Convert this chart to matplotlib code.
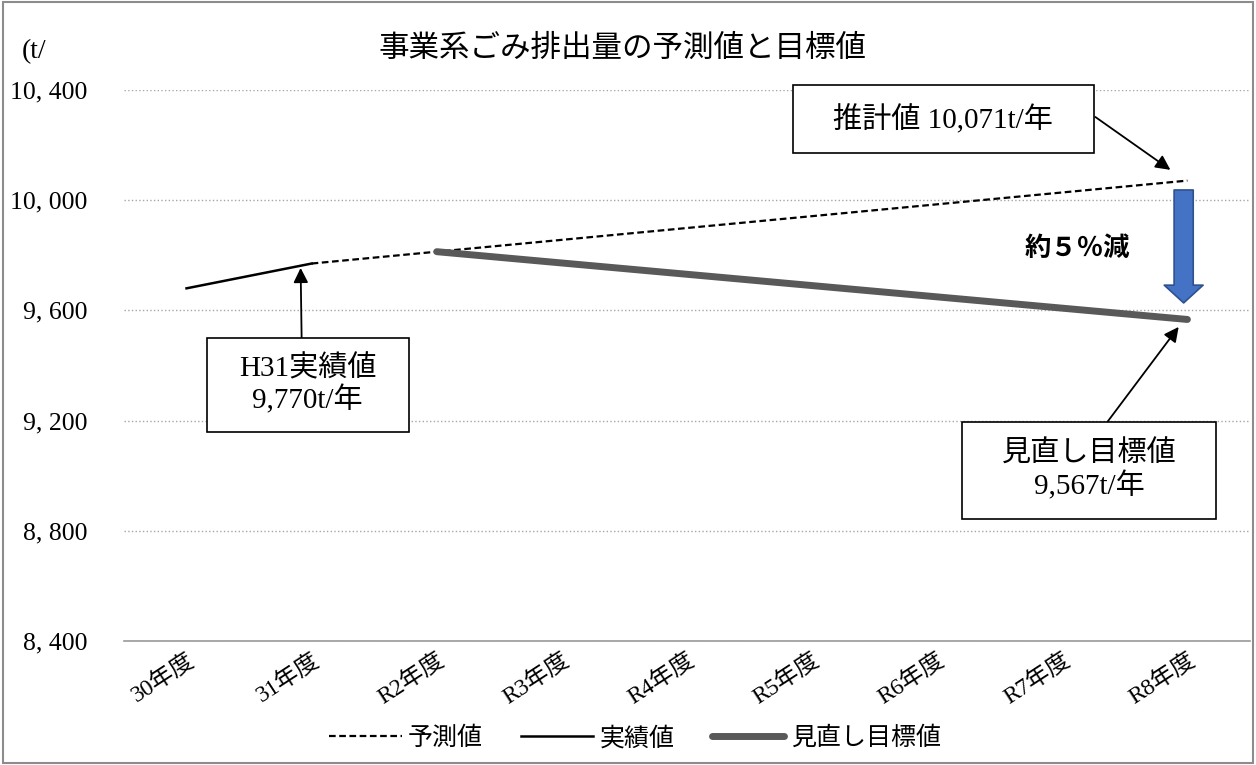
import matplotlib
matplotlib.use("Agg")
import matplotlib.pyplot as plt
from matplotlib.ticker import FuncFormatter
from matplotlib.patches import Rectangle

plt.rcParams['font.family'] = ['Liberation Serif', 'Noto Sans CJK JP']

years = ["30年度", "31年度", "R2年度", "R3年度", "R4年度", "R5年度", "R6年度", "R7年度", "R8年度"]
# 実績値 (30年度, 31年度)
actual = [9680, 9770]
# 予測値 (31年度 - R8年度)
forecast = [9770, 9813, 9856, 9899, 9942, 9985, 10028, 10071]
# 見直し目標値 (R2年度 - R8年度)
target = [9813, 9772, 9731, 9690, 9649, 9608, 9567]

yticks = [8400, 8800, 9200, 9600, 10000, 10400]

fig = plt.figure(figsize=(12.56, 7.65), dpi=100)
ax = fig.add_axes([0.0987, 0.1621, 0.8965, 0.7203])

x = list(range(len(years)))
ax.plot(x[1:], forecast, color='black', lw=1.6, ls=(0, (3, 1.6)), label='予測値')
ax.plot(x[:2], actual, color='black', lw=1.8, label='実績値')
ax.plot(x[2:], target, color='#595959', lw=5, solid_capstyle='round', label='見直し目標値')

ax.set_xlim(-0.5, 8.5)
ax.set_ylim(8400, 10400)
ax.set_yticks(yticks)
ax.yaxis.set_major_formatter(FuncFormatter(lambda v, p: f"{int(v)//1000}, {int(v)%1000:03d}"))
ax.set_xticks(x)
ax.set_xticklabels(years, rotation=33, ha='right', rotation_mode='anchor', fontsize=17)
ax.tick_params(axis='y', labelsize=18.5, length=0, pad=26)
ax.tick_params(axis='x', length=0, pad=6)
ax.grid(axis='y', color='#a6a6a6', ls=':', lw=1)
for s in ['left', 'right', 'top']:
    ax.spines[s].set_visible(False)
ax.spines['bottom'].set_color('#999999')
ax.spines['bottom'].set_linewidth(1.2)

fig.text(0.496, 0.935, "事業系ごみ排出量の予測値と目標値", ha='center', va='center', fontsize=22)
fig.text(0.017, 0.932, "(t/", ha='left', va='center', fontsize=20)

# annotation boxes (data coords)
boxes = [((4.848, 10171), 2.408, 247), ((0.16, 9159), 1.616, 341), ((6.2, 8843), 2.032, 352)]
for (bx, by), bw, bh in boxes:
    ax.add_patch(Rectangle((bx, by), bw, bh, fc='white', ec='black', lw=1.2,
                           clip_on=False, zorder=4))

ax.text(6.048, 10293, "推計値 10,071t/年", ha='center', va='center', fontsize=21, zorder=5)
ax.text(0.968, 9329, "H31実績値\n9,770t/年", ha='center', va='center', fontsize=21,
        linespacing=1.12, zorder=5)
ax.text(7.216, 9019, "見直し目標値\n9,567t/年", ha='center', va='center', fontsize=21,
        linespacing=1.12, zorder=5)

arr = dict(arrowstyle='-|>', color='black', lw=1.3, mutation_scale=22, shrinkA=0, shrinkB=0)
ax.annotate('', xy=(7.864, 10110), xytext=(7.264, 10302), arrowprops=arr)
ax.annotate('', xy=(0.912, 9754), xytext=(0.92, 9500), arrowprops=arr)
ax.annotate('', xy=(7.93, 9540), xytext=(7.36, 9195), arrowprops=arr)

ax.annotate('', xy=(7.97, 9627), xytext=(7.97, 10037),
            arrowprops=dict(arrowstyle='simple,head_length=0.8,head_width=1.75,tail_width=0.86',
                            mutation_scale=16, fc='#4472C4', ec='#2F528F', lw=1.2,
                            shrinkA=0, shrinkB=0))
ax.text(7.12, 9826, "約５％減", ha='center', va='center', fontsize=19,
        family='Noto Sans CJK JP', fontweight='bold')

fig.legend(loc='center', bbox_to_anchor=(0.5056, 0.035), ncol=3, frameon=False,
           handlelength=2.9, columnspacing=1.5, handletextpad=0.25,
           prop={'family': ['Noto Sans CJK JP'], 'size': 18})

fig.patches.append(Rectangle((0.002, 0.002), 0.996, 0.996, transform=fig.transFigure,
                             fill=False, ec='#8c8c8c', lw=1.5))

fig.savefig("out.png", dpi=100)
